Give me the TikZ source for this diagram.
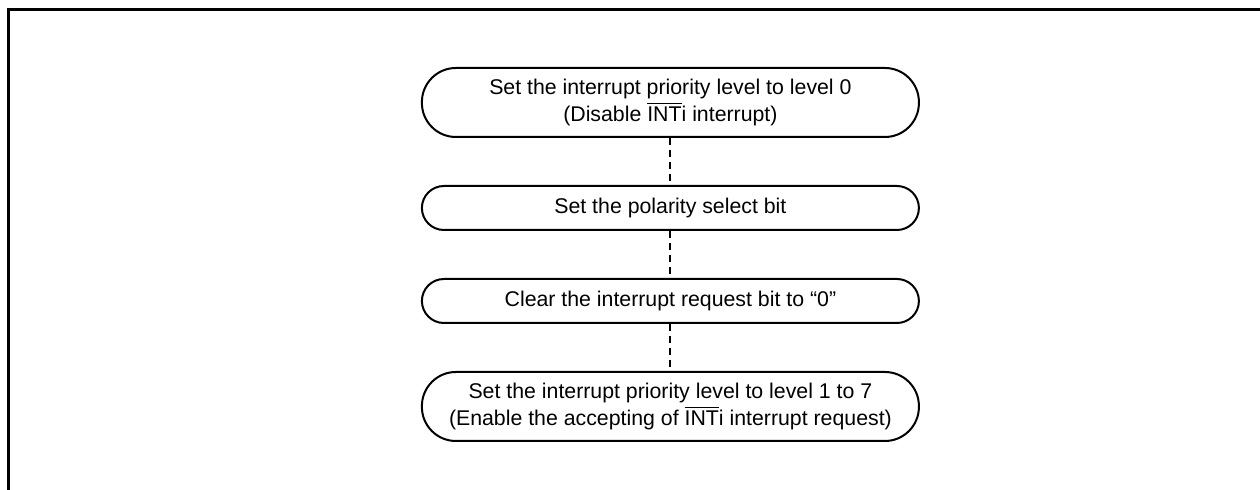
\documentclass[tikz,border=0pt]{standalone}
\usepackage{fontspec}
\setmainfont{Liberation Sans}
\usetikzlibrary{positioning}
\newcommand{\lowsig}[1]{$\overline{\mbox{#1}}$}
\tikzset{
  stepbox/.style  ={rounded corners=17pt,draw=black,line width=1pt,fill=white,
                    minimum width=248.5pt,align=center,inner sep=2pt,
                    font=\fontsize{10.65}{13.3}\selectfont},
  tallstep/.style ={stepbox,minimum height=34.5pt},
  flatstep/.style ={stepbox,rounded corners=11pt,minimum height=22pt},
  link/.style     ={line width=1pt,dash pattern=on 3.5pt off 2.5pt},
  outerframe/.style={line width=1.5pt,draw=black}
}
\begin{document}
\begin{tikzpicture}[x=0.5pt,y=-0.5pt,node distance=23.5pt]
  \useasboundingbox (0,0) rectangle (1260,490);
  \draw[outerframe] (8.5,490) |- (1260,9.5);
  \node[tallstep] (lvl0) at (670.4,102.5) {Set the interrupt priority level to level 0\\(Disable \lowsig{INT}i interrupt)};
  \node[flatstep,below=of lvl0] (pol) {Set the polarity select bit};
  \node[flatstep,below=of pol] (clr) {Clear the interrupt request bit to “0”};
  \node[tallstep,below=of clr] (lvl17) {Set the interrupt priority level to level 1 to 7\\(Enable the accepting of \lowsig{INT}i interrupt request)};
  \draw[link] (lvl0) -- (pol);
  \draw[link] (pol) -- (clr);
  \draw[link] (clr) -- (lvl17);
\end{tikzpicture}
\end{document}
